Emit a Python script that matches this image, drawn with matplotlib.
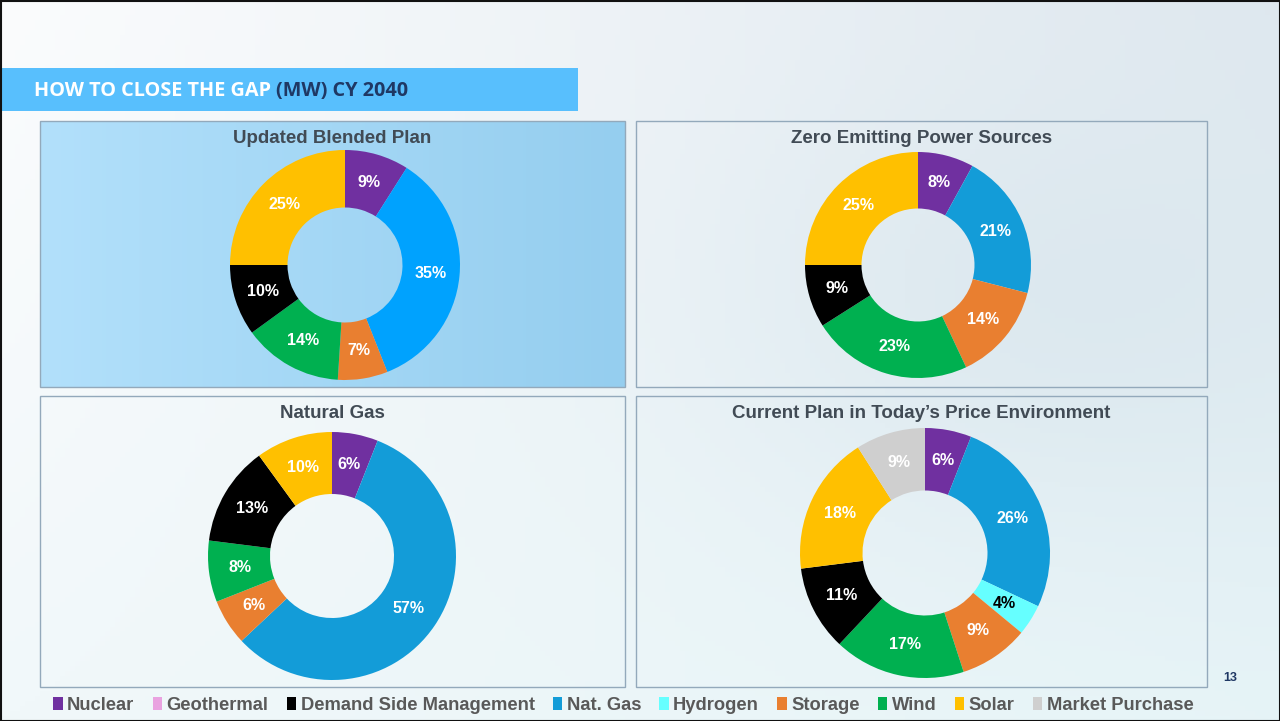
import matplotlib
matplotlib.use('Agg')
import matplotlib.pyplot as plt
from matplotlib.patches import Rectangle, Patch
import matplotlib.colors as mcolors
import numpy as np

plt.rcParams['font.family'] = ['Liberation Sans', 'DejaVu Sans']

W, H = 1280, 721

# Dados
categorias = ['Nuclear', 'Geothermal', 'Demand Side Management', 'Nat. Gas',
              'Hydrogen', 'Storage', 'Wind', 'Solar', 'Market Purchase']
# ordem no sentido horario a partir do topo
ordem_fatias = ['Nuclear', 'Geothermal', 'Nat. Gas', 'Hydrogen', 'Storage',
                'Wind', 'Demand Side Management', 'Solar', 'Market Purchase']

titulos = ['Updated Blended Plan', 'Zero Emitting Power Sources',
           'Natural Gas', 'Current Plan in Today\u2019s Price Environment']

# valores em % na ordem de ordem_fatias
blended = [9, 0, 35, 0, 7, 14, 10, 25, 0]
zero_emitting = [8, 0, 21, 0, 14, 23, 9, 25, 0]
natural_gas = [6, 0, 57, 0, 6, 8, 13, 10, 0]
current_plan = [6, 0, 26, 4, 9, 17, 11, 18, 9]

cores = {
    'Nuclear': '#7030a0',
    'Geothermal': '#e9a2e0',
    'Demand Side Management': '#000000',
    'Nat. Gas': '#139cd8',
    'Hydrogen': '#66ffff',
    'Storage': '#e97f30',
    'Wind': '#00b050',
    'Solar': '#ffc000',
    'Market Purchase': '#cfcfcf',
}


def px(x, y):
    return x / W, 1 - y / H


fig = plt.figure(figsize=(12.8, 7.21), dpi=100)

# Fundo em degrade
bg = fig.add_axes([0, 0, 1, 1])
bg.set_xlim(0, W)
bg.set_ylim(H, 0)
bg.axis('off')
xx, yy = np.meshgrid(np.linspace(0, 1, 256), np.linspace(0, 1, 145))
c_tl = np.array(mcolors.to_rgb('#fbfcfd'))
c_tr = np.array(mcolors.to_rgb('#dfe8ef'))
c_bl = np.array(mcolors.to_rgb('#f1f8fa'))
c_br = np.array(mcolors.to_rgb('#e6f4f7'))
img = ((1 - xx)[..., None] * (1 - yy)[..., None] * c_tl + xx[..., None] * (1 - yy)[..., None] * c_tr
       + (1 - xx)[..., None] * yy[..., None] * c_bl + xx[..., None] * yy[..., None] * c_br)
blob = np.exp(-(((xx - 0.82) / 0.25) ** 2 + ((yy - 0.42) / 0.3) ** 2))[..., None]
img = img * (1 - 0.45 * blob) + 0.45 * blob * np.array(mcolors.to_rgb('#d2e1ea'))
bg.imshow(img, extent=(0, W, H, 0), aspect='auto', zorder=0)

# Moldura do slide
bg.add_patch(Rectangle((0.5, 0.5), W - 1, H - 1, fill=False, edgecolor='#111111', lw=1.5, zorder=5))

# Barra do titulo
bg.add_patch(Rectangle((0, 68), 578, 43, facecolor='#58bffd', edgecolor='none', zorder=2))
t1 = bg.text(34, 91, 'HOW TO CLOSE THE GAP ', fontsize=14.3, fontweight='bold', color='white',
             family=['Open Sans', 'DejaVu Sans'], va='center', ha='left', zorder=3)
fig.canvas.draw()
bb = t1.get_window_extent(renderer=fig.canvas.get_renderer())
x_seg = bg.transData.inverted().transform((bb.x1, 0))[0]
bg.text(x_seg, 91, '(MW) CY 2040', fontsize=14.3, fontweight='bold', color='#1f3864',
        family=['Open Sans', 'DejaVu Sans'], va='center', ha='left', zorder=3)

# Paineis: (x0, y0, x1, y1) em pixels
paineis = [(40, 121, 625, 387), (636, 121, 1207, 387),
           (40, 396, 625, 687), (636, 396, 1207, 687)]
# centros e raios das roscas
roscas = [(345, 265, 115), (918, 265, 113), (332, 556, 124), (925, 553, 125)]
valores = [blended, zero_emitting, natural_gas, current_plan]

# painel 1 com fundo azul
x0, y0, x1, y1 = paineis[0]
grad = np.linspace(0, 1, 200)[None, :, None]
g = (1 - grad) * np.array(mcolors.to_rgb('#b2e0fb')) + grad * np.array(mcolors.to_rgb('#95ceef'))
bg.imshow(g, extent=(x0, x1, y1, y0), aspect='auto', zorder=1)

for (x0, y0, x1, y1), titulo in zip(paineis, titulos):
    bg.add_patch(Rectangle((x0, y0), x1 - x0, y1 - y0, fill=False,
                           edgecolor='#93a9bb', lw=1.0, zorder=2))
    bg.text((x0 + x1) / 2, y0 + 17.5, titulo, ha='center', va='center', fontsize=13.5,
            fontweight='bold', color='#414b55', zorder=3)

for i, ((cx, cy, r), vals) in enumerate(zip(roscas, valores)):
    fx, fy = px(cx - r, cy + r)
    ax = fig.add_axes([fx, fy, 2 * r / W, 2 * r / H])
    cols = [cores[c] for c in ordem_fatias]
    if i == 0:
        cols[2] = '#00a2fe'
    wedges, _ = ax.pie(vals, colors=cols, startangle=90, counterclock=False, radius=1,
                       wedgeprops=dict(width=0.5, linewidth=0))
    for w, v, nome in zip(wedges, vals, ordem_fatias):
        if v == 0:
            continue
        ang = np.deg2rad((w.theta1 + w.theta2) / 2)
        cor_txt = 'black' if nome == 'Hydrogen' else 'white'
        ax.text(0.75 * np.cos(ang), 0.75 * np.sin(ang), f'{v}%', ha='center', va='center',
                fontsize=11.5, fontweight='bold', color=cor_txt)
    ax.set_xlim(-1, 1)
    ax.set_ylim(-1, 1)
    ax.set_aspect('equal')
    ax.axis('off')

# Numero da pagina
bg.text(1230, 678, '13', ha='center', va='center', fontsize=9, fontweight='bold', color='#1f3864')

# Legenda
handles = [Patch(facecolor=cores[c], edgecolor='none', label=c) for c in categorias]
leg = fig.legend(handles=handles, loc='center', bbox_to_anchor=(0.487, 1 - 705 / H), ncol=9,
                 frameon=False, fontsize=13.2, handlelength=0.5, handleheight=0.7,
                 handletextpad=0.25, columnspacing=1.0, borderaxespad=0)
for t in leg.get_texts():
    t.set_color('#595959')
    t.set_fontweight('bold')

fig.savefig('out.png', dpi=100)
